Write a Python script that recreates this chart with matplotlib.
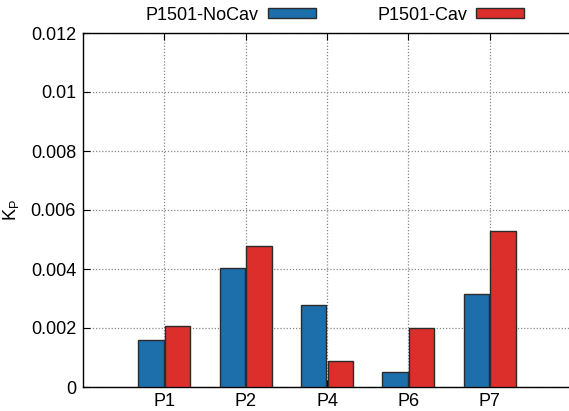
import numpy as np
import matplotlib
matplotlib.use('Agg')
import matplotlib.pyplot as plt

plt.rcParams['font.family'] = ['Liberation Sans', 'DejaVu Sans']
plt.rcParams['mathtext.default'] = 'regular'

# data
categories = ['P1', 'P2', 'P4', 'P6', 'P7']
nocav = [0.00159, 0.00404, 0.00278, 0.00052, 0.00315]
cav = [0.00206, 0.00479, 0.00089, 0.00200, 0.00529]
series_names = ['P1501-NoCav', 'P1501-Cav']
yticks = [0, 0.002, 0.004, 0.006, 0.008, 0.01, 0.012]
ytick_labels = ['0', '0.002', '0.004', '0.006', '0.008', '0.01', '0.012']

blue = '#1c6fab'
red = '#dc2e2a'

fig = plt.figure(figsize=(5.69, 4.11), dpi=100)
# right spine sits just outside the picture, as in the reference
ax = fig.add_axes([83 / 569, 1 - 387 / 411, 488 / 569, 354 / 411])

x = np.arange(len(categories))
w = 0.31
b1 = ax.bar(x - 0.165, nocav, w, color=blue, edgecolor='#2b2b2b', linewidth=1, zorder=3, label=series_names[0])
b2 = ax.bar(x + 0.165, cav, w, color=red, edgecolor='#2b2b2b', linewidth=1, zorder=3, label=series_names[1])

ax.set_xlim(-1, 5)
ax.set_ylim(0, 0.012)
ax.set_xticks(x)
ax.set_xticklabels(categories)
ax.set_yticks(yticks)
ax.set_yticklabels(ytick_labels)

ax.grid(True, linestyle=(0, (1, 1.5)), color='#888888', linewidth=0.9, zorder=0)
ax.set_axisbelow(True)

ax.tick_params(axis='both', direction='in', length=5, width=0.8, labelsize=13, colors='black')
ax.tick_params(axis='x', top=True, pad=4)
ax.tick_params(axis='y', right=False, pad=5)
for s in ax.spines.values():
    s.set_linewidth(1.0)

ax.set_ylabel('$K_P$', fontsize=13)
ax.yaxis.set_label_coords(-0.128, 0.5)

ax.legend(ncol=2, markerfirst=False, frameon=False, fontsize=13,
          loc='center', bbox_to_anchor=(0.589, 0.9635), bbox_transform=fig.transFigure,
          handlelength=2.66, handleheight=0.45, handletextpad=0.5, columnspacing=3.4,
          borderpad=0, borderaxespad=0)

fig.savefig('out.png', dpi=100)
